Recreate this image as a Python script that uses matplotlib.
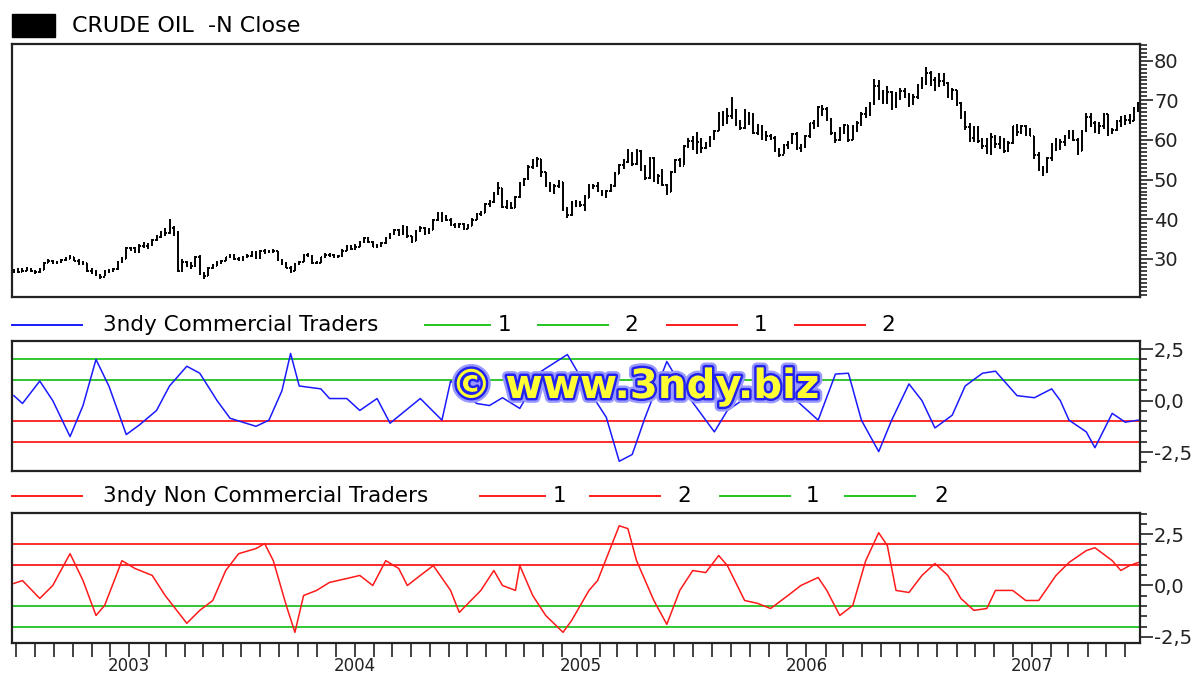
import matplotlib
matplotlib.use("Agg")
import matplotlib.pyplot as plt
import matplotlib.dates as mdates
import matplotlib.patheffects as pe
from matplotlib.lines import Line2D
from matplotlib.patches import Rectangle
from matplotlib.ticker import MultipleLocator, FuncFormatter
import pandas as pd

plt.rcParams['font.family'] = ['DejaVu Sans']

# weekly bars, crude oil front month (friday closes), 2002-06-28 .. 2007-06-22
first_week = '2002-06-28'
close = [
    # 2002
    26.9, 26.8, 27.0, 27.5, 26.9, 26.8, 27.2, 29.0, 29.6, 28.9, 29.3, 29.8, 30.1, 30.5, 29.6, 29.0, 29.0, 27.0,
    27.0, 26.0, 25.5, 26.8, 26.9, 27.5, 29.3, 30.0, 32.7,
    # 2003
    32.7, 31.7, 33.3, 33.3, 33.5, 34.9, 35.6, 36.6, 36.6, 37.8, 36.5, 26.9, 29.2, 28.6, 28.1, 30.6, 26.2, 25.8,
    27.7, 28.3, 29.0, 29.6, 30.4, 30.9, 30.0, 29.8, 30.4, 30.8, 31.8, 30.3, 32.0, 31.8, 31.9, 31.9, 29.7, 28.9,
    27.8, 27.0, 28.7, 29.3, 31.1, 30.8, 28.9, 29.1, 30.4, 31.1, 31.0, 30.4, 30.7, 32.1, 33.2, 32.6,
    # 2004
    33.0, 34.3, 35.3, 34.3, 33.1, 33.2, 34.0, 35.3, 36.2, 37.3, 36.2, 38.1, 35.7, 34.4, 37.1, 37.7, 36.5, 37.4,
    39.9, 41.4, 40.0, 39.9, 38.5, 38.4, 38.7, 37.6, 38.4, 39.9, 41.3, 41.7, 43.8, 44.4, 46.6, 47.9, 43.2, 43.9,
    42.8, 45.6, 48.9, 50.1, 53.3, 54.9, 55.2, 51.8, 48.9, 47.3, 48.4, 49.4, 42.5, 41.0, 44.2, 44.0, 43.5,
    # 2005
    45.4, 48.4, 48.5, 47.2, 46.5, 47.1, 48.4, 51.5, 53.8, 54.4, 56.7, 54.0, 57.3, 53.3, 50.5, 55.4, 49.7, 51.0,
    48.7, 46.8, 51.9, 55.0, 53.5, 58.5, 59.8, 59.8, 59.6, 58.1, 58.7, 60.6, 62.3, 66.9, 65.4, 66.1, 67.6, 64.1,
    63.0, 64.2, 66.2, 61.8, 62.6, 60.6, 61.1, 60.6, 57.5, 56.1, 58.7, 59.3, 61.4, 58.1, 58.4, 61.0,
    # 2006
    64.2, 63.9, 68.4, 67.8, 65.4, 61.8, 59.9, 62.9, 63.7, 60.0, 63.2, 64.3, 66.6, 67.4, 69.3, 73.5, 71.9, 70.2,
    72.0, 68.5, 71.4, 72.3, 71.6, 69.9, 70.9, 73.9, 74.1, 77.0, 75.0, 74.5, 74.8, 74.4, 71.1, 72.5, 69.2, 66.3,
    63.3, 60.6, 62.9, 59.8, 58.6, 57.0, 60.8, 59.1, 59.6, 57.2, 59.2, 63.4, 62.0, 63.4, 62.4, 61.1,
    # 2007
    56.3, 52.9, 52.0, 55.4, 59.0, 59.9, 59.4, 61.1, 61.6, 60.1, 57.1, 62.3, 65.9, 64.3, 63.6, 63.4, 66.5, 61.9,
    62.4, 64.9, 65.2, 65.1, 64.8, 68.0, 69.1,
]
high = [
    27.4, 27.6, 27.6, 28.0, 27.7, 27.3, 27.6, 29.3, 30.0, 29.8, 29.6, 30.1, 30.6, 30.9, 30.6, 29.9, 29.6, 29.1,
    27.6, 27.3, 26.3, 27.1, 27.4, 27.8, 29.6, 30.4, 33.0,
    33.1, 33.0, 33.7, 34.2, 33.9, 35.1, 36.0, 37.0, 37.7, 39.99, 38.2, 37.0, 30.0, 29.6, 29.3, 30.8, 31.0, 26.6,
    28.0, 28.8, 29.4, 29.8, 30.6, 31.2, 31.3, 30.4, 30.7, 31.3, 32.1, 32.1, 32.3, 32.4, 32.2, 32.4, 32.0, 30.0,
    29.2, 28.1, 28.9, 29.6, 31.3, 31.5, 31.0, 29.5, 30.6, 31.4, 31.5, 31.2, 31.0, 32.4, 33.5, 33.4,
    33.7, 34.6, 35.6, 35.5, 34.5, 33.8, 34.3, 35.6, 36.6, 37.6, 37.6, 38.5, 38.4, 35.9, 37.4, 38.2, 38.0, 37.8,
    40.1, 41.8, 41.8, 41.0, 40.2, 39.0, 39.1, 39.0, 38.8, 40.3, 41.6, 42.0, 44.0, 44.8, 46.9, 49.4, 48.0, 44.8,
    44.4, 45.9, 49.5, 50.5, 53.6, 55.3, 55.7, 55.3, 52.0, 49.5, 48.9, 49.8, 49.5, 43.0, 44.5, 44.9, 44.5,
    46.2, 48.8, 49.0, 49.4, 47.5, 47.4, 48.8, 51.8, 54.0, 55.2, 57.6, 57.0, 57.6, 57.5, 53.6, 55.8, 55.6, 51.5,
    52.6, 49.0, 52.1, 55.2, 55.4, 58.7, 60.5, 61.0, 62.1, 60.6, 59.5, 60.9, 62.5, 67.1, 67.3, 68.0, 70.8, 67.8,
    65.0, 67.8, 67.0, 66.7, 64.0, 63.9, 62.3, 61.4, 61.0, 58.1, 58.9, 59.8, 61.8, 62.1, 59.0, 61.3,
    64.3, 65.0, 68.6, 68.8, 68.2, 65.6, 62.1, 63.2, 64.0, 63.9, 63.8, 64.9, 67.0, 68.2, 69.6, 75.3, 75.2, 72.5,
    73.5, 72.3, 72.0, 73.0, 73.0, 71.9, 71.5, 74.0, 75.8, 78.4, 77.3, 75.9, 77.0, 76.9, 74.6, 73.0, 72.7, 69.5,
    67.2, 64.3, 63.6, 63.4, 60.4, 60.4, 61.7, 61.3, 60.9, 60.5, 59.7, 63.6, 64.0, 63.7, 63.8, 63.0,
    61.1, 56.9, 53.5, 55.6, 59.2, 60.5, 60.3, 61.3, 62.5, 62.5, 60.4, 62.6, 66.7, 66.7, 64.7, 64.5, 66.9, 66.5,
    63.1, 65.0, 66.0, 66.2, 66.6, 68.3, 69.7,
]
low = [
    26.4, 26.4, 26.6, 26.9, 26.7, 26.3, 26.5, 27.1, 28.9, 28.6, 28.8, 29.0, 29.6, 29.9, 29.4, 28.5, 28.4, 26.8,
    26.2, 25.8, 25.0, 25.6, 26.4, 26.7, 27.3, 29.1, 29.9,
    32.0, 31.4, 31.5, 32.7, 32.6, 33.3, 34.6, 35.4, 35.9, 36.3, 35.9, 26.7, 26.8, 27.9, 27.5, 27.9, 26.0, 25.0,
    25.7, 27.5, 28.1, 28.7, 29.4, 30.2, 29.8, 29.4, 29.6, 30.2, 30.6, 30.1, 30.1, 31.2, 31.4, 31.5, 29.5, 28.5,
    27.6, 26.5, 26.9, 28.5, 29.2, 30.5, 28.7, 28.6, 29.0, 30.2, 30.6, 30.2, 30.2, 30.5, 32.0, 32.3,
    32.3, 32.9, 34.1, 34.0, 32.9, 32.7, 33.0, 33.8, 35.1, 36.0, 35.8, 36.0, 35.4, 33.9, 34.4, 36.8, 36.1, 36.3,
    37.3, 39.6, 39.4, 39.5, 38.2, 37.8, 37.9, 37.4, 37.5, 38.3, 39.7, 40.8, 41.5, 43.0, 44.0, 46.2, 42.9, 42.7,
    42.5, 42.9, 45.4, 48.5, 49.9, 52.6, 53.1, 50.6, 48.2, 46.8, 46.5, 47.9, 42.2, 40.3, 40.9, 43.0, 43.1,
    42.1, 45.3, 47.6, 46.9, 45.9, 45.3, 46.9, 48.2, 51.3, 52.8, 54.3, 53.4, 53.8, 52.3, 49.8, 50.1, 49.3, 48.9,
    48.5, 46.2, 46.9, 51.7, 53.2, 53.6, 57.9, 57.5, 56.5, 56.8, 57.6, 58.3, 60.1, 62.3, 63.6, 64.0, 65.2, 63.5,
    62.4, 62.7, 63.7, 61.4, 61.2, 60.0, 59.8, 59.9, 56.9, 55.7, 56.5, 57.6, 58.9, 57.5, 57.0, 58.1,
    60.6, 62.8, 63.3, 66.0, 64.9, 61.3, 59.3, 59.8, 61.6, 59.6, 59.9, 62.1, 63.6, 65.5, 66.1, 68.9, 70.2, 69.0,
    69.1, 67.5, 68.0, 70.1, 70.6, 68.4, 68.8, 70.3, 72.8, 73.8, 73.6, 72.3, 73.3, 73.6, 70.6, 70.2, 68.6, 65.4,
    62.4, 59.5, 59.5, 59.2, 57.8, 56.4, 56.2, 57.9, 57.7, 56.8, 56.9, 58.9, 61.1, 61.4, 61.1, 60.9,
    55.1, 52.2, 51.0, 51.6, 54.6, 57.3, 57.4, 58.4, 60.2, 59.8, 56.1, 57.3, 62.1, 63.2, 61.8, 61.6, 62.7, 61.1,
    61.6, 62.2, 63.3, 63.7, 64.1, 64.7, 67.1,
]

# 3ndy COT oscillators, read at week numbers (0 = first bar)
comm_wk = [0, 2, 6, 9, 13, 16, 19, 22, 26, 29, 33, 36, 40, 43, 47, 50, 56, 59, 62, 64, 66, 71, 73, 77, 80, 84,
           87, 92, 94, 99, 101, 104, 107, 110, 113, 117, 122, 128, 132, 137, 140, 143, 146, 151, 155, 160, 162,
           165, 170, 174, 178, 181, 186, 190, 193, 196, 200, 203, 207, 210, 213, 217, 220, 224, 227, 232, 236,
           240, 242, 244, 248, 250, 254, 257, 260]
comm = [0.24, -0.14, 0.95, 0.0, -1.75, -0.24, 2.0, 0.7, -1.65, -1.19, -0.48, 0.71, 1.67, 1.33, 0.0, -0.86, -1.25,
        -0.95, 0.48, 2.29, 0.71, 0.57, 0.1, 0.1, -0.48, 0.1, -1.1, -0.24, 0.1, -0.95, 0.95, 0.48, -0.14, -0.24,
        0.14, -0.38, 1.43, 2.24, 0.81, -0.81, -2.95, -2.62, -0.81, 1.9, 0.48, -0.95, -1.52, -0.48, 0.24, 1.19,
        0.71, 0.0, -0.95, 1.29, 1.33, -0.95, -2.48, -0.95, 0.81, 0.0, -1.33, -0.71, 0.71, 1.33, 1.43, 0.24, 0.14,
        0.57, 0.0, -0.95, -1.52, -2.29, -0.62, -1.05, -0.95]

noncomm_wk = [0, 2, 6, 9, 13, 16, 19, 21, 25, 28, 32, 35, 40, 43, 46, 49, 52, 56, 58, 60, 63, 65, 67, 70, 73,
              77, 80, 83, 86, 89, 91, 94, 97, 101, 103, 108, 111, 113, 116, 117, 120, 123, 127, 129, 133, 135,
              140, 142, 144, 148, 151, 154, 157, 160, 163, 165, 169, 172, 175, 179, 182, 186, 188, 191, 194,
              197, 200, 202, 204, 207, 210, 213, 216, 219, 222, 225, 227, 231, 234, 237, 241, 244, 248, 250,
              254, 256, 258, 260]
noncomm = [0.1, 0.24, -0.63, 0.0, 1.55, 0.24, -1.46, -0.97, 1.21, 0.83, 0.49, -0.49, -1.84, -1.21, -0.73, 0.73,
           1.55, 1.8, 2.04, 1.21, -0.97, -2.28, -0.49, -0.24, 0.15, 0.34, 0.49, 0.0, 1.21, 0.83, 0.0, 0.49, 0.97,
           -0.24, -1.31, -0.24, 0.73, 0.0, -0.24, 0.97, -0.49, -1.46, -2.28, -1.7, -0.24, 0.24, 2.91, 2.77, 1.21,
           -0.73, -1.89, -0.24, 0.73, 0.63, 1.46, 0.97, -0.73, -0.87, -1.12, -0.49, 0.0, 0.39, -0.24, -1.46,
           -0.97, 1.21, 2.57, 1.94, -0.24, -0.34, 0.49, 1.07, 0.49, -0.63, -1.21, -1.12, -0.24, -0.24, -0.73,
           -0.73, 0.49, 1.12, 1.7, 1.84, 1.21, 0.73, 0.97, 1.12]

comm_levels = [2, 1, -1, -2]
noncomm_levels = [2, 1, -1, -2]

GREEN = '#22c322'
RED = '#ff1a1a'
BLUE = '#1a1aff'


def comma_fmt(v, pos):
    return ('%.1f' % v).replace('.', ',')


weeks = pd.date_range(first_week, periods=len(close), freq='W-FRI')
wnum = mdates.date2num(weeks)
xmin, xmax = wnum[0] - 3, wnum[-1] + 3

fig = plt.figure(figsize=(11.98, 6.75), dpi=100)
fig.patch.set_facecolor('white')

ax1 = fig.add_axes([0.010, 0.560, 0.9416, 0.3748])
ax2 = fig.add_axes([0.010, 0.302, 0.9416, 0.1926])
ax3 = fig.add_axes([0.010, 0.0474, 0.9416, 0.1926])

# price bars
ax1.vlines(wnum, low, high, color='black', lw=1.4)
ax1.hlines(close[:-1], wnum[1:] - 2.3, wnum[1:], color='black', lw=1.4)
ax1.hlines(close, wnum, wnum + 2.3, color='black', lw=1.4)
ax1.set_ylim(20.4, 84.2)
ax1.yaxis.set_major_locator(MultipleLocator(10))
ax1.yaxis.set_minor_locator(MultipleLocator(1))
ax1.set_yticks([30, 40, 50, 60, 70, 80])

# oscillators
for ax, wk, vals, col, levels, lc in [
        (ax2, comm_wk, comm, BLUE, comm_levels, [GREEN, GREEN, RED, RED]),
        (ax3, noncomm_wk, noncomm, RED, noncomm_levels, [RED, RED, GREEN, GREEN])]:
    for lev, c in zip(levels, lc):
        ax.axhline(lev, color=c, lw=1.3, zorder=1)
    ax.plot(wnum[wk], vals, color=col, lw=1.1, zorder=2)
    ax.yaxis.set_major_locator(MultipleLocator(2.5))
    ax.yaxis.set_minor_locator(MultipleLocator(0.5))
    ax.yaxis.set_major_formatter(FuncFormatter(comma_fmt))
ax2.set_ylim(-3.43, 2.89)
ax3.set_ylim(-2.8, 3.53)

for ax in (ax1, ax2, ax3):
    ax.set_xlim(xmin, xmax)
    ax.yaxis.tick_right()
    ax.tick_params(axis='y', which='major', length=9, width=1.2, labelsize=14, pad=1, colors='#222222')
    ax.tick_params(axis='y', which='minor', length=5, width=1.2, colors='#222222')
    for s in ax.spines.values():
        s.set_linewidth(1.6)
        s.set_color('#222222')

for ax in (ax1, ax2):
    ax.tick_params(axis='x', which='both', bottom=False, labelbottom=False)

ax3.xaxis.set_major_locator(mdates.YearLocator())
ax3.xaxis.set_major_formatter(mdates.DateFormatter('%Y'))
ax3.xaxis.set_minor_locator(mdates.MonthLocator())
ax3.tick_params(axis='x', which='both', length=10, width=1.2, labelsize=12, pad=0, colors='#222222')

# legends drawn in figure coordinates
fig.patches.append(Rectangle((0.010, 1 - 37 / 675), 43 / 1198, 23 / 675, transform=fig.transFigure,
                             facecolor='black', edgecolor='black'))
fig.text(72 / 1198, 1 - 26 / 675, 'CRUDE OIL  -N Close', fontsize=16, va='center', ha='left')


def leg_line(x0, x1, y, c):
    fig.lines.append(Line2D([x0 / 1198, x1 / 1198], [1 - y / 675, 1 - y / 675], color=c, lw=1.4,
                            transform=fig.transFigure))


def leg_text(x, y, s):
    fig.text(x / 1198, 1 - y / 675, s, fontsize=15.5, va='center', ha='left')


y = 325
leg_line(12, 82, y, BLUE)
leg_text(103, y, '3ndy Commercial Traders')
leg_line(425, 490, y, GREEN)
leg_text(498, y, '1')
leg_line(538, 608, y, GREEN)
leg_text(624, y, '2')
leg_line(667, 737, y, RED)
leg_text(754, y, '1')
leg_line(795, 865, y, RED)
leg_text(881, y, '2')

y = 496
leg_line(12, 82, y, RED)
leg_text(103, y, '3ndy Non Commercial Traders')
leg_line(480, 545, y, RED)
leg_text(553, y, '1')
leg_line(590, 660, y, RED)
leg_text(677, y, '2')
leg_line(720, 790, y, GREEN)
leg_text(806, y, '1')
leg_line(845, 915, y, GREEN)
leg_text(934, y, '2')

# watermark
fig.text(635 / 1198, 1 - 387 / 675, '\u00a9 www.3ndy.biz', fontsize=29, fontweight='bold', color='#ffff33',
         ha='center', va='center', zorder=10,
         path_effects=[pe.withStroke(linewidth=7, foreground='#9999ff'),
                       pe.withStroke(linewidth=3.5, foreground='#2222ee')])

fig.savefig('out.png', dpi=100, facecolor='white')
